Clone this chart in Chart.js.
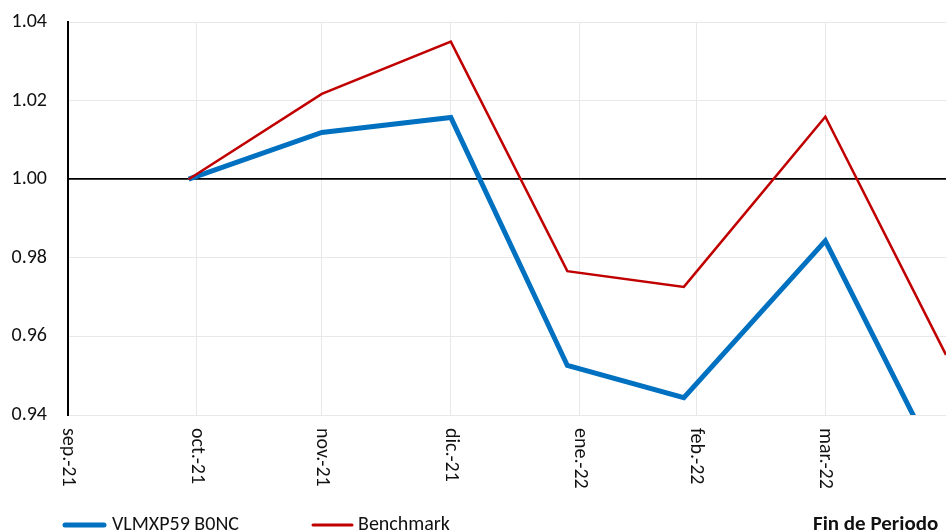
<!DOCTYPE html>
<html>
<head>
<meta charset="utf-8">
<script src="https://cdn.jsdelivr.net/npm/chart.js@4.4.1/dist/chart.umd.min.js"></script>
<style>
  html, body { margin: 0; padding: 0; background: #fff; overflow: hidden; }
  canvas { display: block; }
</style>
</head>
<body>
<canvas id="chart" width="946" height="531"></canvas>
<script>
// fechas de fin de periodo (dias habiles)
const pointDates = ['2021-10-29', '2021-11-30', '2021-12-31', '2022-01-28', '2022-02-25', '2022-03-31', '2022-04-29'];
const fundValues = [1.0000, 1.0119, 1.0157, 0.9526, 0.9444, 0.9843, 0.9234];
const benchValues = [1.0000, 1.0217, 1.0350, 0.9766, 0.9726, 1.0159, 0.9553];

// marcas del eje x (fin de mes)
const tickDates = ['2021-09-30', '2021-10-31', '2021-11-30', '2021-12-31', '2022-01-31', '2022-02-28', '2022-03-31'];
const tickLabels = ['sep.-21', 'oct.-21', 'nov.-21', 'dic.-21', 'ene.-22', 'feb.-22', 'mar.-22'];
const yTicks = [0.94, 0.96, 0.98, 1.00, 1.02, 1.04];

const seriesNames = ['VLMXP59 B0NC', 'Benchmark'];
const axisTitle = 'Fin de Periodo';

const FONT = 'Carlito, Calibri, Lato, sans-serif';
const BLUE = '#0070C0';
const RED = '#C00000';
const GRID = '#e8e8e8';

const startDay = Date.UTC(2021, 8, 30);
function dayOf(s) {
  const [y, m, d] = s.split('-').map(Number);
  return (Date.UTC(y, m - 1, d) - startDay) / 86400000;
}

const tickDays = tickDates.map(dayOf);
const fundData = pointDates.map((d, i) => ({ x: dayOf(d), y: fundValues[i] }));
const benchData = pointDates.map((d, i) => ({ x: dayOf(d), y: benchValues[i] }));

const extras = {
  id: 'extras',
  afterDraw(chart) {
    const ctx = chart.ctx;
    const xs = chart.scales.x;
    ctx.save();
    ctx.fillStyle = '#111';
    ctx.font = '20px ' + FONT;
    ctx.textBaseline = 'middle';
    ctx.textAlign = 'left';
    tickDays.forEach((v, i) => {
      const px = xs.getPixelForValue(v);
      ctx.save();
      ctx.translate(px, chart.chartArea.bottom + 13);
      ctx.rotate(Math.PI / 2);
      ctx.fillText(tickLabels[i], 0, 0);
      ctx.restore();
    });

    // leyenda
    const ly = 525;
    ctx.lineCap = 'round';
    ctx.strokeStyle = BLUE;
    ctx.lineWidth = 5;
    ctx.beginPath(); ctx.moveTo(65, ly); ctx.lineTo(104, ly); ctx.stroke();
    ctx.strokeStyle = RED;
    ctx.lineWidth = 3;
    ctx.beginPath(); ctx.moveTo(313, ly); ctx.lineTo(352, ly); ctx.stroke();

    ctx.textBaseline = 'alphabetic';
    ctx.fillText(seriesNames[0], 112, 530);
    ctx.fillText(seriesNames[1], 358, 530);
    ctx.font = 'bold 21px ' + FONT;
    ctx.fillText(axisTitle, 813, 530);
    ctx.restore();
  }
};

Chart.defaults.font.family = FONT;

new Chart(document.getElementById('chart'), {
  type: 'line',
  data: {
    datasets: [
      {
        label: seriesNames[1],
        data: benchData,
        borderColor: RED,
        borderWidth: 2.5,
        pointRadius: 0,
        tension: 0,
        clip: 0
      },
      {
        label: seriesNames[0],
        data: fundData,
        borderColor: BLUE,
        borderWidth: 5,
        pointRadius: 0,
        tension: 0,
        clip: 0
      }
    ]
  },
  options: {
    responsive: false,
    animation: false,
    devicePixelRatio: 1,
    layout: { padding: { top: 22, right: 0, left: 0, bottom: 0 } },
    plugins: { legend: { display: false }, tooltip: { enabled: false } },
    scales: {
      x: {
        type: 'linear',
        min: 0,
        max: dayOf('2022-04-29'),
        afterBuildTicks(scale) { scale.ticks = tickDays.map(v => ({ value: v })); },
        afterFit(scale) { scale.height = 116; },
        ticks: { display: false },
        grid: { color: GRID, lineWidth: 1, drawTicks: false },
        border: { color: GRID, width: 1 }
      },
      y: {
        min: 0.94,
        max: 1.04,
        afterBuildTicks(scale) { scale.ticks = yTicks.map(v => ({ value: v })); },
        afterFit(scale) {
          scale.width = 68;
          scale.paddingTop = 0;
          scale.paddingBottom = 0;
        },
        ticks: {
          padding: 21,
          color: '#111',
          font: { size: 20 },
          callback: v => Number(v).toFixed(2)
        },
        grid: {
          drawTicks: false,
          color: c => Math.abs(c.tick.value - 1) < 1e-9 ? '#000' : GRID,
          lineWidth: c => Math.abs(c.tick.value - 1) < 1e-9 ? 1.8 : 1
        },
        border: { color: '#000', width: 2 }
      }
    }
  },
  plugins: [extras]
});
</script>
</body>
</html>
